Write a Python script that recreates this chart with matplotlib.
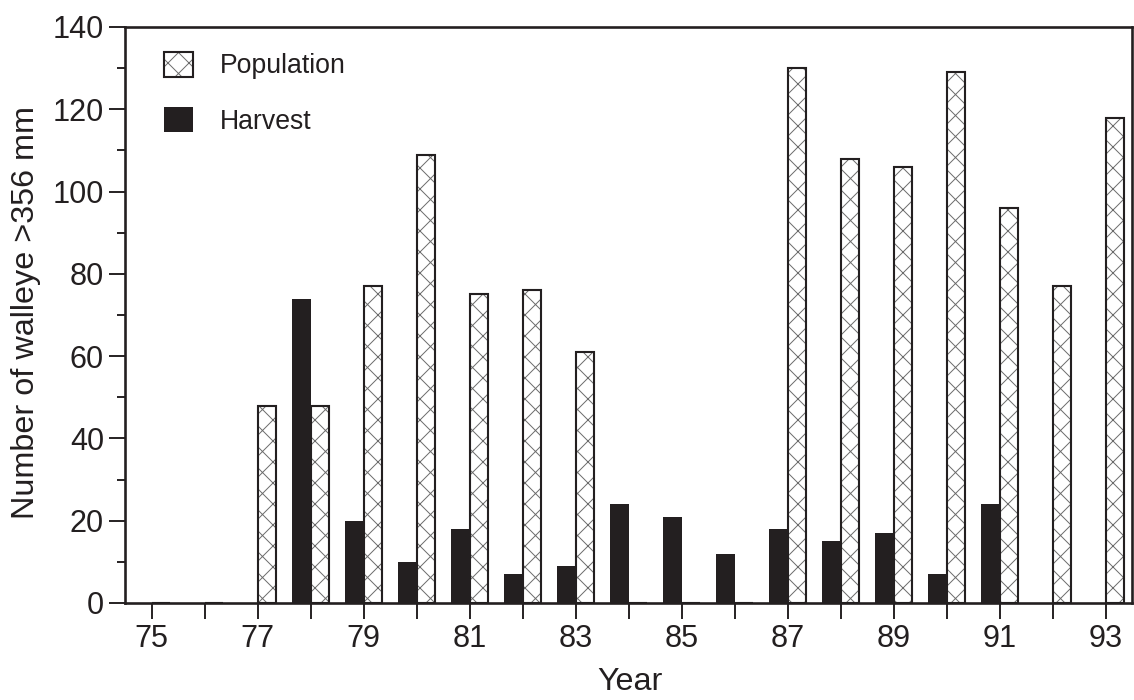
import matplotlib
matplotlib.use("Agg")
import matplotlib.pyplot as plt
from matplotlib.patches import Patch
from matplotlib.legend_handler import HandlerTuple
from matplotlib.ticker import MultipleLocator

# ---- data ----
years = [75, 76, 77, 78, 79, 80, 81, 82, 83, 84, 85, 86, 87, 88, 89, 90, 91, 92, 93]
population = [0, 0, 48, 48, 77, 109, 75, 76, 61, 0, 0, 0, 130, 108, 106, 129, 96, 77, 118]
harvest = [0, 0, 0, 74, 20, 10, 18, 7, 9, 24, 21, 12, 18, 15, 17, 7, 24, 0, 0]
year_labels = ["75", "", "77", "", "79", "", "81", "", "83", "", "85", "", "87", "",
               "89", "", "91", "", "93"]
series_names = ["Population", "Harvest"]
x_title = "Year"
y_title = "Number of walleye >356 mm"

DARK = "#231f20"
HATCH = "#6a6a6a"
DPI = 126
plt.rcParams["font.family"] = ["Liberation Sans", "DejaVu Sans"]
plt.rcParams["hatch.linewidth"] = 0.55
plt.rcParams["text.color"] = DARK

fig = plt.figure(figsize=(1134 / DPI, 700 / DPI), dpi=DPI)
ax = fig.add_axes([125 / 1134, 1 - 603 / 700, 1007 / 1134, 576 / 700])

w = 0.35
# harvest: solid dark bars left of the tick
ax.bar(years, harvest, width=-w, align="edge", color=DARK, edgecolor="none", zorder=2)
# population: hatched bars right of the tick (grey hatch, black outline)
ax.bar(years, population, width=w, align="edge", color="white",
       edgecolor=HATCH, linewidth=0, hatch="xx", zorder=2)
ax.bar(years, population, width=w, align="edge", color="none",
       edgecolor=DARK, linewidth=1.2, zorder=3)

ax.set_xlim(74.5, 93.5)
ax.set_ylim(0, 140)
ax.set_xticks(years)
ax.set_xticklabels(year_labels)
ax.yaxis.set_major_locator(MultipleLocator(20))
ax.yaxis.set_minor_locator(MultipleLocator(10))

for s in ax.spines.values():
    s.set_linewidth(1.5)
    s.set_color(DARK)
    s.set_zorder(5)

ax.tick_params(axis="both", which="major", direction="out", length=9, width=1.1,
               color=DARK, labelsize=17.5, labelcolor=DARK)
ax.tick_params(axis="y", which="major", pad=3)
ax.tick_params(axis="x", which="major", pad=3)
ax.tick_params(axis="y", which="minor", direction="out", length=4.6, width=1.1, color=DARK)

ax.set_xlabel(x_title, fontsize=18.5, color=DARK)
ax.xaxis.set_label_coords(0.5015, -0.111)
ax.set_ylabel(y_title, fontsize=18.5, color=DARK)
ax.yaxis.set_label_coords(-0.083, 0.505)

# legend
pop_hatch = Patch(facecolor="white", edgecolor=HATCH, linewidth=0, hatch="xx")
pop_edge = Patch(facecolor="none", edgecolor=DARK, linewidth=1.2)
harv = Patch(facecolor=DARK, edgecolor="none")
leg = ax.legend([(pop_hatch, pop_edge), harv], series_names,
                handler_map={tuple: HandlerTuple(ndivide=1)},
                loc="upper left", bbox_to_anchor=((164 - 125) / 1007, (603 - 52) / 576),
                frameon=False, fontsize=15.2, borderpad=0, borderaxespad=0,
                handlelength=1.09, handleheight=1.05, handletextpad=1.0,
                labelspacing=1.05)

fig.savefig("out.png", dpi=DPI)
